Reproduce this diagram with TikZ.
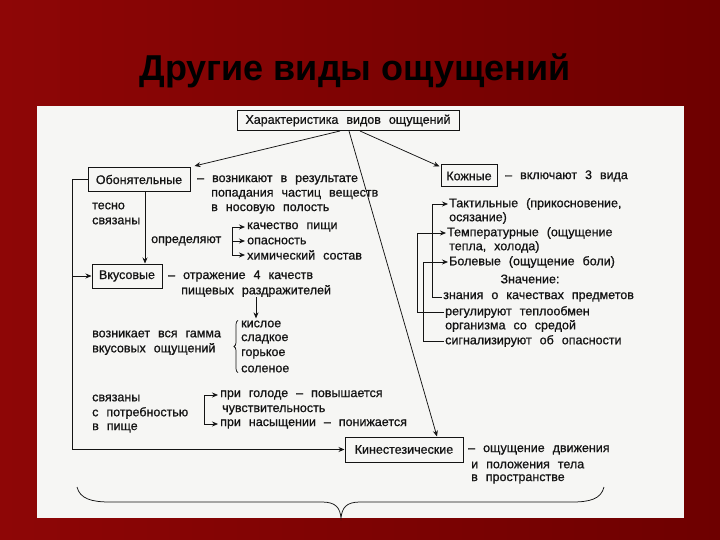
\documentclass[tikz,border=0pt]{standalone}
\usepackage{fontspec}
\setmainfont{Liberation Sans}[WordSpace=2.3,FakeBold=0.8]
\newfontfamily\titlefont{Liberation Sans}
\usetikzlibrary{arrows.meta,decorations.pathreplacing}
\definecolor{bgl}{RGB}{142,6,6}
\definecolor{bgr}{RGB}{110,0,0}
\definecolor{panel}{RGB}{246,246,244}
\definecolor{ink}{RGB}{20,20,20}
\newcommand\dtext{\fontsize{12.5}{15}\selectfont}
\begin{document}
\begin{tikzpicture}[x=1pt,y=-1pt,
  box/.style={draw=ink,line width=1pt,fill=panel,inner sep=0pt,font=\dtext,text=ink},
  txt/.style={anchor=west,inner sep=0pt,font=\dtext,text=ink},
  ln/.style={draw=ink,line width=0.75pt},
  arr/.style={ln,-{Stealth[length=6pt,width=5pt]}}]
\useasboundingbox (0,0) rectangle (720,540);
\shade[left color=bgl,right color=bgr] (0,0) rectangle (720,540);
\fill[panel] (37,106) rectangle (684,518);
\node[font=\titlefont\bfseries\fontsize{36}{40}\selectfont,text=black] (title) at (355,71) {Другие виды ощущений};

% boxes
\node[box,minimum width=222,minimum height=20] (top) at (348,120.5) {Характеристика видов ощущений};
\node[box,minimum width=102,minimum height=24] (obon) at (139,179.5) {Обонятельные};
\node[box,minimum width=70,minimum height=24] (vkus) at (127,276) {Вкусовые};
\node[box,minimum width=56,minimum height=22] (kozh) at (469,176) {Кожные};
\node[box,minimum width=118,minimum height=25] (kin) at (404,449.5) {Кинестезические};

% olfactory
\node[txt] (ob1) at (197,180) {– возникают в результате};
\node[txt] (ob2) at (211,194.5) {попадания частиц веществ};
\node[txt] (ob3) at (211,209) {в носовую полость};
\node[txt] (tes1) at (92,206) {тесно};
\node[txt] (tes2) at (92,221) {связаны};
\node[txt] (opr) at (151,241) {определяют};
\node[txt] (k1) at (247,227) {качество пищи};
\node[txt] (k2) at (247,241) {опасность};
\node[txt] (k3) at (247,255) {химический состав};
\coordinate (b1) at (232,0);
\draw[ln] (b1 |- k1.west) -- (b1 |- k3.west);
\draw[arr] (b1 |- k1.west) -- ([xshift=-2pt]k1.west);
\draw[arr] (b1 |- k2.west) -- ([xshift=-2pt]k2.west);
\draw[arr] (b1 |- k3.west) -- ([xshift=-2pt]k3.west);
\draw[arr] ([xshift=6pt]obon.south) -- ([xshift=18pt]vkus.north);

% trunk
\coordinate (tr) at (72,0);
\draw[arr] (obon.west) -| (tr |- kin.west) -- (kin.west);
\draw[arr] (tr |- vkus.west) -- (vkus.west);

% taste
\node[txt] (vk1) at (168,276) {– отражение 4 качеств};
\node[txt] (vk2) at (181,291) {пищевых раздражителей};
\node[txt] (g1) at (92,334) {возникает вся гамма};
\node[txt] (g2) at (92,349) {вкусовых ощущений};
\node[txt] (kis) at (241,324) {кислое};
\node[txt] (sla) at (241,339) {сладкое};
\node[txt] (gor) at (241,354) {горькое};
\node[txt] (sol) at (241,369) {соленое};
\draw[arr] ([xshift=75pt]vk2.south west) -- ([xshift=15pt,yshift=2pt]kis.north west);
\draw[ln,decorate,decoration={brace,amplitude=4pt}] ([xshift=-3pt]sol.south west) -- ([xshift=-3pt]kis.north west);

\node[txt] (sv1) at (92,398) {связаны};
\node[txt] (sv2) at (92,413) {с потребностью};
\node[txt] (sv3) at (92,428) {в пище};
\node[txt] (h1) at (220,395) {при голоде – повышается};
\node[txt] (h2) at (222,410) {чувствительность};
\node[txt] (h3) at (220,424) {при насыщении – понижается};
\coordinate (hb) at (204,0);
\draw[arr] (hb |- h3.west) |- ([xshift=-2pt]h1.west);
\draw[arr] (hb |- h3.west) -- ([xshift=-2pt]h3.west);

% kinesthetic
\node[txt] (kn1) at (468,450) {– ощущение движения};
\node[txt] (kn2) at (471,465) {и положения тела};
\node[txt] (kn3) at (471,479) {в пространстве};

% skin
\node[txt] (kz1) at (505,176) {– включают 3 вида};
\node[txt] (t1) at (449,204) {Тактильные (прикосновение,};
\node[txt] (t2) at (449,218) {осязание)};
\node[txt] (t3) at (447,233) {Температурные (ощущение};
\node[txt] (t4) at (449,247) {тепла, холода)};
\node[txt] (t5) at (449,262) {Болевые (ощущение боли)};
\node[font=\dtext,text=ink,inner sep=0pt] (zn0) at (530,279) {Значение:};
\node[txt] (zn) at (443,297) {знания о качествах предметов};
\node[txt] (reg) at (445,312) {регулируют теплообмен};
\node[txt] (org) at (445,326) {организма со средой};
\node[txt] (sig) at (445,341) {сигнализируют об опасности};
\coordinate (c1) at (432,0);
\coordinate (c2) at (417,0);
\coordinate (c3) at (423,0);
\draw[arr] ([xshift=-1pt]zn.west) -- (c1 |- zn.west) -- (c1 |- t1.west) -- ([xshift=-1pt]t1.west);
\draw[arr] ([xshift=-1pt]reg.west) -- (c2 |- reg.west) -- (c2 |- t3.west) -- ([xshift=-1pt]t3.west);
\draw[arr] ([xshift=-1pt]sig.west) -- (c3 |- sig.west) -- (c3 |- t5.west) -- ([xshift=-1pt]t5.west);

% diagonals from top box
\draw[arr] ([xshift=-8pt]top.south) -- ([xshift=4pt,yshift=1pt]obon.north east);
\draw[arr] ([xshift=1pt]top.south) -- ([xshift=33pt]kin.north);
\draw[arr] ([xshift=12pt]top.south) -- ([xshift=-1pt,yshift=-2pt]kozh.north west);

% bottom brace
\coordinate (bl) at (77,487);
\coordinate (br) at (604,487);
\coordinate (bt) at (341,518);
\draw[ln] (bl) .. controls (80,499) and (92,502) .. (110,502) -- (322,502) .. controls (336,502) and (340,508) .. (bt)
  .. controls (342,508) and (346,502) .. (360,502) -- (572,502) .. controls (590,502) and (601,499) .. (br);
\end{tikzpicture}
\end{document}
